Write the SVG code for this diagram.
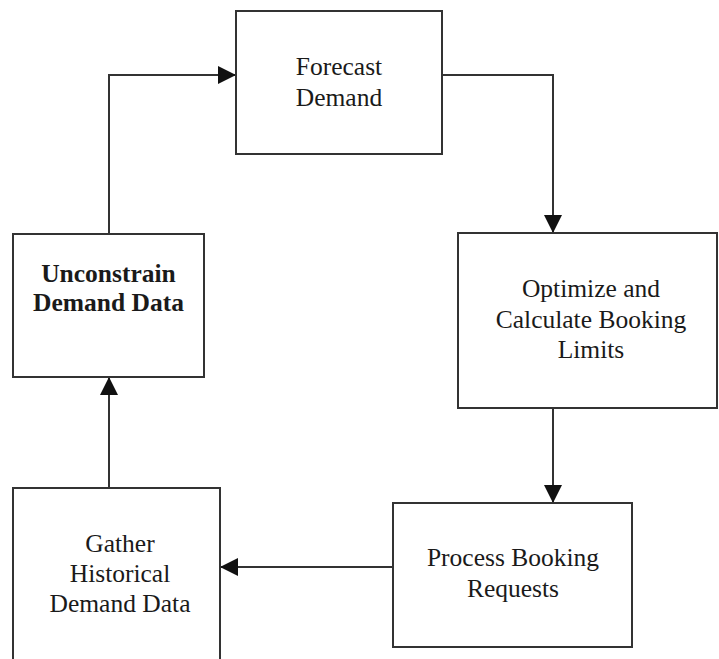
<svg xmlns="http://www.w3.org/2000/svg" width="719" height="659" viewBox="0 0 719 659">
<style>
.box{fill:#fff;stroke:#333;stroke-width:2}
.line{fill:none;stroke:#333;stroke-width:2}
.t{font-family:'Liberation Serif',serif;font-size:25.5px;fill:#1a1a1a;text-anchor:middle}
.b{font-weight:bold}
</style>
<defs>
<marker id="ah" viewBox="0 0 18 18" refX="18" refY="9" markerWidth="18" markerHeight="18" markerUnits="userSpaceOnUse" orient="auto">
<path d="M0,0 L18,9 L0,18 Z" fill="#111"/>
</marker>
</defs>
<rect width="719" height="659" fill="#fff"/>
<g id="connectors">
<path class="line" d="M109,233 V75 H236" marker-end="url(#ah)"/>
<path class="line" d="M442,75 H553 V233" marker-end="url(#ah)"/>
<path class="line" d="M553,408 V503" marker-end="url(#ah)"/>
<path class="line" d="M393,567 H220" marker-end="url(#ah)"/>
<path class="line" d="M109,488 V377" marker-end="url(#ah)"/>
</g>
<g id="forecast">
<rect class="box" x="236" y="11" width="206" height="143"/>
<text class="t" x="339" y="75">Forecast</text>
<text class="t" x="339" y="106">Demand</text>
</g>
<g id="optimize">
<rect class="box" x="458" y="233" width="259" height="175"/>
<text class="t" x="591" y="297">Optimize and</text>
<text class="t" x="591" y="328">Calculate Booking</text>
<text class="t" x="591" y="358">Limits</text>
</g>
<g id="process">
<rect class="box" x="393" y="503" width="239" height="144"/>
<text class="t" x="513" y="566">Process Booking</text>
<text class="t" x="513" y="597">Requests</text>
</g>
<g id="gather">
<path class="box" d="M13,660 V488 H220 V660"/>
<text class="t" x="120" y="552">Gather</text>
<text class="t" x="120" y="582">Historical</text>
<text class="t" x="120" y="612">Demand Data</text>
</g>
<g id="unconstrain">
<rect class="box" x="13" y="234" width="191" height="143"/>
<text class="t b" x="108.5" y="282">Unconstrain</text>
<text class="t b" x="108.5" y="311">Demand Data</text>
</g>
</svg>
